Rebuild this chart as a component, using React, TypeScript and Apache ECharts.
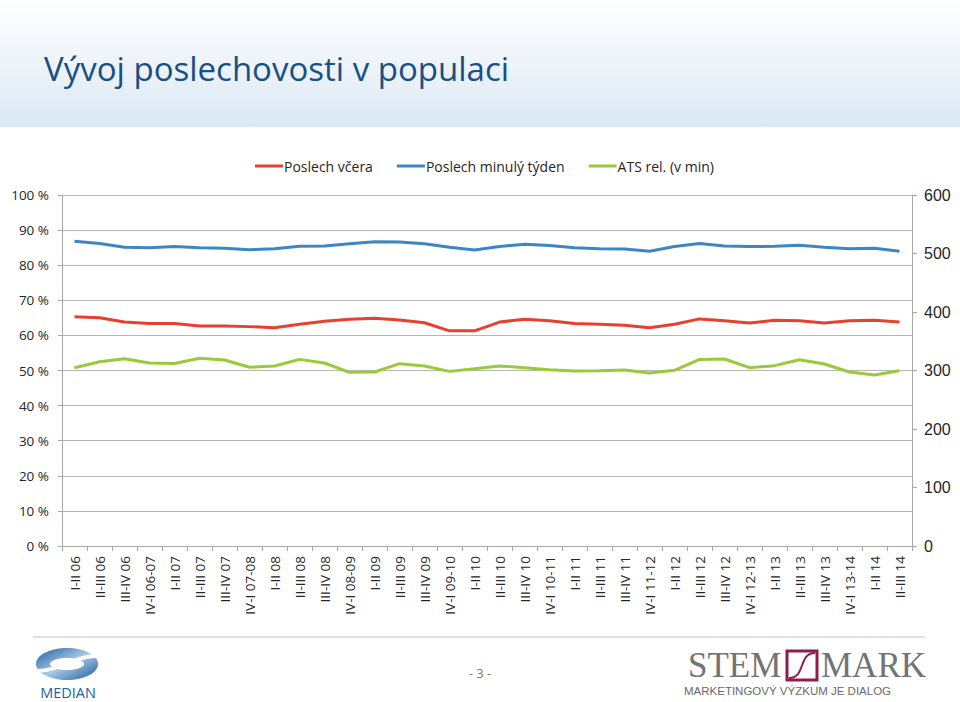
import React, { useEffect, useRef } from "react";
import * as echarts from "echarts";

const categories = [
  "I-II 06", "II-III 06", "III-IV 06", "IV-I 06-07",
  "I-II 07", "II-III 07", "III-IV 07", "IV-I 07-08",
  "I-II 08", "II-III 08", "III-IV 08", "IV-I 08-09",
  "I-II 09", "II-III 09", "III-IV 09", "IV-I 09-10",
  "I-II 10", "II-III 10", "III-IV 10", "IV-I 10-11",
  "I-II 11", "II-III 11", "III-IV 11", "IV-I 11-12",
  "I-II 12", "II-III 12", "III-IV 12", "IV-I 12-13",
  "I-II 13", "II-III 13", "III-IV 13", "IV-I 13-14",
  "I-II 14", "II-III 14",
];

const poslechVcera = [
  65.3, 65.0, 63.8, 63.4, 63.4, 62.7, 62.7, 62.5, 62.2, 63.2, 64.0, 64.6,
  64.9, 64.4, 63.6, 61.3, 61.3, 63.8, 64.6, 64.2, 63.4, 63.2, 62.9, 62.2,
  63.2, 64.7, 64.2, 63.5, 64.3, 64.2, 63.5, 64.2, 64.3, 63.8,
];

const poslechMinulyTyden = [
  86.8, 86.2, 85.1, 85.0, 85.3, 85.0, 84.8, 84.4, 84.7, 85.4, 85.5, 86.1,
  86.7, 86.6, 86.1, 85.1, 84.3, 85.3, 86.0, 85.6, 85.0, 84.7, 84.6, 84.0,
  85.3, 86.2, 85.5, 85.3, 85.4, 85.7, 85.1, 84.7, 84.8, 84.0,
];

const atsRel = [
  304.8, 315.0, 320.2, 312.8, 312.0, 320.8, 318.0, 305.5, 307.7, 319.0, 312.8, 296.9,
  297.4, 311.7, 307.7, 298.5, 303.0, 307.7, 304.8, 301.4, 299.1, 299.7, 300.9, 295.7,
  300.3, 319.0, 319.6, 304.8, 308.3, 318.5, 311.1, 297.4, 292.3, 299.7,
];

const seriesNames = ["Poslech včera", "Poslech minulý týden", "ATS rel. (v min)"];
const colors = ["#e8402c", "#3d86c6", "#9bc93a"];

export default function App() {
  const ref = useRef<HTMLDivElement>(null);

  useEffect(() => {
    document.body.style.margin = "0";
    if (!ref.current) return;
    const chart = echarts.init(ref.current, null, { renderer: "svg" });
    const axisGray = "#a8a8a8";
    const labelColor = "#262626";
    chart.setOption({
      animation: false,
      backgroundColor: "#ffffff",
      grid: { left: 62, right: 48, top: 195, bottom: 156, containLabel: false },
      legend: {
        top: 154,
        left: 250,
        itemWidth: 28,
        itemHeight: 3,
        itemGap: 24,
        icon: "rect",
        textStyle: { fontFamily: "Open Sans", fontSize: 14, color: labelColor, padding: [0, 0, 0, -4] },
        data: seriesNames,
      },
      xAxis: {
        type: "category",
        data: categories,
        boundaryGap: true,
        axisLine: { show: true, lineStyle: { color: axisGray, width: 1 } },
        axisTick: { show: true, interval: 0, length: 5, lineStyle: { color: axisGray } },
        axisLabel: {
          rotate: 90,
          interval: 0,
          fontFamily: "Open Sans",
          fontSize: 13.5,
          color: labelColor,
          margin: 10,
        },
      },
      yAxis: [
        {
          type: "value",
          min: 0,
          max: 100,
          interval: 10,
          position: "left",
          axisLine: { show: true, lineStyle: { color: axisGray } },
          axisTick: { show: true, length: 4, lineStyle: { color: axisGray } },
          axisLabel: {
            formatter: "{value} %",
            fontFamily: "Open Sans",
            fontSize: 13.5,
            color: labelColor,
            margin: 13,
          },
          splitLine: { show: true, lineStyle: { color: "#b5b5b5", width: 1 } },
        },
        {
          type: "value",
          min: 0,
          max: 600,
          interval: 100,
          position: "right",
          axisLine: { show: true, lineStyle: { color: axisGray } },
          axisTick: { show: true, length: 5, lineStyle: { color: axisGray } },
          axisLabel: {
            fontFamily: "Liberation Sans",
            fontSize: 16,
            color: labelColor,
            margin: 12,
          },
          splitLine: { show: false },
        },
      ],
      series: [
        {
          name: seriesNames[0],
          type: "line",
          yAxisIndex: 0,
          data: poslechVcera,
          symbol: "none",
          itemStyle: { color: colors[0] },
          lineStyle: { color: colors[0], width: 3 },
        },
        {
          name: seriesNames[1],
          type: "line",
          yAxisIndex: 0,
          data: poslechMinulyTyden,
          symbol: "none",
          itemStyle: { color: colors[1] },
          lineStyle: { color: colors[1], width: 3 },
        },
        {
          name: seriesNames[2],
          type: "line",
          yAxisIndex: 1,
          data: atsRel,
          symbol: "none",
          itemStyle: { color: colors[2] },
          lineStyle: { color: colors[2], width: 3 },
        },
      ],
      graphic: [
        {
          type: "rect",
          z: -10,
          silent: true,
          shape: { x: 0, y: 0, width: 960, height: 127 },
          style: {
            fill: new echarts.graphic.LinearGradient(0, 0, 0, 1, [
              { offset: 0, color: "#ffffff" },
              { offset: 1, color: "#dbe8f4" },
            ]),
          },
        },
        {
          type: "text",
          x: 44,
          y: 68,
          style: {
            text: "Vývoj poslechovosti v populaci",
            fontFamily: "Open Sans",
            fontSize: 33,
            fill: "#1a4f83",
            textVerticalAlign: "middle",
            verticalAlign: "middle",
          },
        },
        {
          type: "line",
          shape: { x1: 33, y1: 637, x2: 925, y2: 637 },
          style: { stroke: "#c8dcee", lineWidth: 1.5 },
        },
        {
          type: "text",
          x: 480,
          y: 673,
          style: {
            text: "- 3 -",
            fontFamily: "Open Sans",
            fontSize: 13,
            fill: "#7a7a7a",
            align: "center",
            verticalAlign: "middle",
            textAlign: "center",
            textVerticalAlign: "middle",
          },
        },
        // MEDIAN logo
        {
          type: "ellipse",
          shape: { cx: 67, cy: 664, rx: 31, ry: 16 },
          style: {
            fill: new echarts.graphic.LinearGradient(0, 0, 1, 1, [
              { offset: 0, color: "#1b5d9c" },
              { offset: 0.5, color: "#a8c8e6" },
              { offset: 1, color: "#1b5d9c" },
            ]),
          },
        },
        {
          type: "ellipse",
          shape: { cx: 67, cy: 664, rx: 17, ry: 6 },
          style: { fill: "#ffffff" },
        },
        {
          type: "bezierCurve",
          shape: { x1: 37, y1: 671, cpx1: 60, cpy1: 671, cpx2: 74, cpy2: 656, x2: 97, y2: 656 },
          style: { stroke: "#ffffff", lineWidth: 4, fill: "none" },
        },
        {
          type: "text",
          x: 68,
          y: 692,
          style: {
            text: "MEDIAN",
            fontFamily: "Open Sans",
            fontSize: 14.5,
            fill: "#255f98",
            align: "center",
            verticalAlign: "middle",
            textAlign: "center",
            textVerticalAlign: "middle",
          },
        },
        // STEM/MARK logo
        {
          type: "text",
          x: 688,
          y: 665,
          style: {
            text: "STEM",
            fontFamily: "Liberation Serif",
            fontSize: 35,
            fill: "#737373",
            verticalAlign: "middle",
            textVerticalAlign: "middle",
          },
        },
        {
          type: "rect",
          shape: { x: 787, y: 651, width: 30, height: 29 },
          style: { fill: "#ffffff", stroke: "#8c1d4e", lineWidth: 3 },
        },
        {
          type: "bezierCurve",
          shape: { x1: 789, y1: 678, cpx1: 806, cpy1: 678, cpx2: 798, cpy2: 653, x2: 815, y2: 653 },
          style: { stroke: "#8c1d4e", lineWidth: 2, fill: "none" },
        },
        {
          type: "text",
          x: 821,
          y: 665,
          style: {
            text: "MARK",
            fontFamily: "Liberation Serif",
            fontSize: 35,
            fill: "#737373",
            verticalAlign: "middle",
            textVerticalAlign: "middle",
          },
        },
        {
          type: "text",
          x: 684,
          y: 691,
          style: {
            text: "MARKETINGOVÝ VÝZKUM JE DIALOG",
            fontFamily: "Liberation Sans",
            fontSize: 11.5,
            fill: "#6a6a6a",
            verticalAlign: "middle",
            textVerticalAlign: "middle",
          },
        },
      ],
    });
    return () => chart.dispose();
  }, []);

  return <div ref={ref} style={{ width: 960, height: 702 }} />;
}
